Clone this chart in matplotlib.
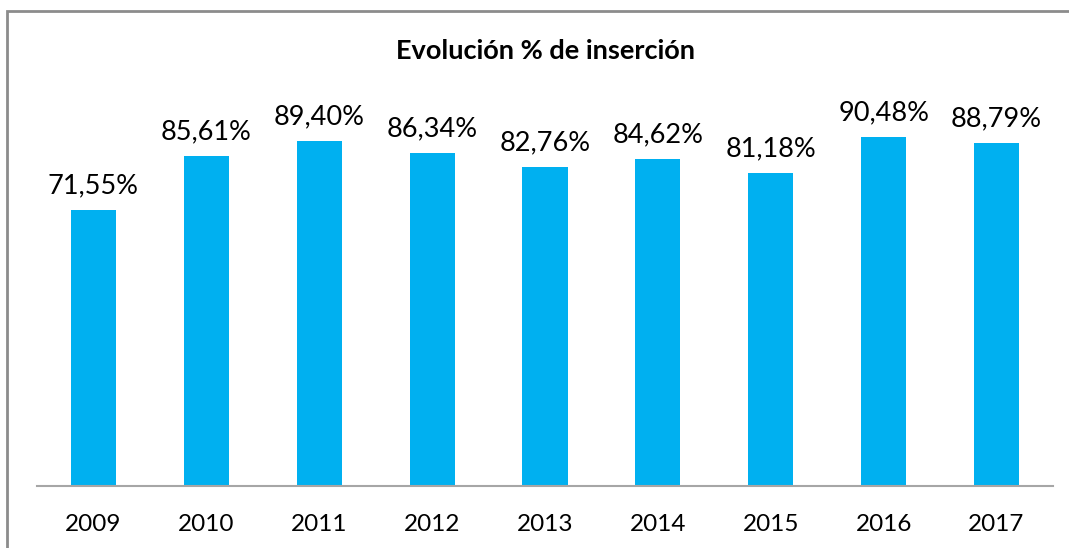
import matplotlib.pyplot as plt
from matplotlib.patches import Rectangle

years = ['2009', '2010', '2011', '2012', '2013', '2014', '2015', '2016', '2017']
insercion = [71.55, 85.61, 89.40, 86.34, 82.76, 84.62, 81.18, 90.48, 88.79]

plt.rcParams['font.family'] = ['Lato', 'DejaVu Sans']

fig = plt.figure(figsize=(10.69, 5.48), dpi=100)
ax = fig.add_axes([37/1069, 62/548, 1016/1069, 386/548])

# outer chart frame (cut off at right and bottom like the screenshot)
fig.patches.append(Rectangle((7/1069, -0.1), 1.2, 1 - 11/548 + 0.1,
                             transform=fig.transFigure, fill=False,
                             edgecolor='#8c8c8c', linewidth=2))

x = range(len(years))
bars = ax.bar(x, insercion, width=0.4, color='#00B0F0')
for b, v in zip(bars, insercion):
    ax.text(b.get_x() + b.get_width()/2, v + 3.0, f'{v:.2f}%'.replace('.', ','),
            ha='center', va='bottom', fontsize=19.5)

ax.set_xlim(-0.5, len(years) - 0.5)
ax.set_ylim(0, 100)
ax.set_xticks(list(x))
ax.set_xticklabels(years, fontsize=17.5)
ax.tick_params(axis='x', length=0, pad=20)
ax.set_yticks([])
for s in ['top', 'right', 'left']:
    ax.spines[s].set_visible(False)
ax.spines['bottom'].set_color('#a6a6a6')
ax.spines['bottom'].set_linewidth(1.5)

fig.text(545/1069, 1 - 51/548, 'Evolución % de inserción', ha='center', va='center',
         fontsize=19.5, fontweight='bold')

fig.savefig('out.png', dpi=100)
